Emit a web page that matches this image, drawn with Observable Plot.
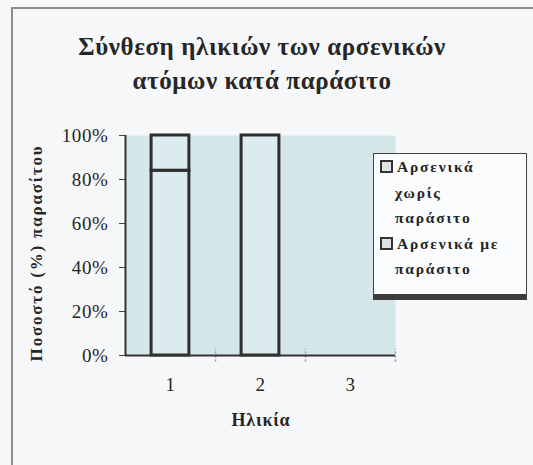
<!DOCTYPE html>
<html>
<head>
<meta charset="utf-8">
<script src="https://cdn.jsdelivr.net/npm/d3@7"></script>
<script src="https://cdn.jsdelivr.net/npm/@observablehq/plot@0.6"></script>
<style>
  html, body { margin: 0; padding: 0; background: #f6f7f9; }
  #wrap { position: relative; width: 533px; height: 465px; overflow: hidden; background: #f6f7f9;
          font-family: "Liberation Serif", "DejaVu Serif", serif; color: #262626; }
  #wrap svg { position: absolute; left: 0; top: 0; }
  .frameL { position: absolute; left: 11px; top: 7px; width: 2px; height: 470px; background: #8a8c8f; }
  .frameT { position: absolute; left: 11px; top: 7px; width: 530px; height: 2px; background: #8a8c8f; }
  .title { position: absolute; left: 0; width: 524px; top: 30px; text-align: center; font-weight: bold;
           font-size: 25px; line-height: 34px; letter-spacing: 0.6px; }
  .ylab { position: absolute; left: 37px; top: 253px; transform: translate(-50%, -50%) rotate(-90deg);
          white-space: nowrap; font-weight: bold; font-size: 17px; letter-spacing: 1.8px; }
  .xlab { position: absolute; left: 261px; top: 420px; transform: translate(-50%, -50%);
          font-weight: bold; font-size: 18px; letter-spacing: 0.8px; }
  .legend { position: absolute; left: 373px; top: 153px; width: 152px; height: 140px; background: #fbfcfd;
            border: 1.5px solid #444; border-bottom: 6px solid #3c3c3c; box-sizing: content-box; }
  .item { position: absolute; left: 6px; font-weight: bold; font-size: 15.5px; letter-spacing: 1.8px;
          line-height: 25.5px; white-space: nowrap; }
  .sw { display: inline-block; width: 9px; height: 9px; border: 2px solid #333; background: #dfe3e4;
        vertical-align: -1px; margin-right: 4px; }
  .ind { padding-left: 15px; }
</style>
</head>
<body>
<div id="wrap">
  <div class="frameL"></div>
  <div class="frameT"></div>
  <div class="title">Σύνθεση ηλικιών των αρσενικών<br>ατόμων κατά παράσιτο</div>
  <div class="ylab">Ποσοστό (%) παρασίτου</div>
  <div class="xlab">Ηλικία</div>
</div>
<script>
// Data
const ages = [1, 2, 3];
const withoutParasite = [16, 0, 0];   // "Αρσενικά χωρίς παράσιτο" (top segment)
const withParasite = [84, 100, 0];    // "Αρσενικά με παράσιτο" (bottom segment)
const seriesNames = ["Αρσενικά χωρίς παράσιτο", "Αρσενικά με παράσιτο"];
const yTicks = [0, 20, 40, 60, 80, 100];
const catBoundaries = [1.5, 2.5, 3.5];

const rows = [];
ages.forEach((a, i) => {
  if (withParasite[i] > 0) rows.push({age: a, series: seriesNames[1], y1: 0, y2: withParasite[i]});
  if (withoutParasite[i] > 0) rows.push({age: a, series: seriesNames[0], y1: withParasite[i], y2: withParasite[i] + withoutParasite[i]});
});

const half = 0.21;
const plot = Plot.plot({
  width: 533,
  height: 465,
  marginLeft: 125,
  marginRight: 138,
  marginTop: 135,
  marginBottom: 110,
  style: {background: "transparent", fontFamily: "Liberation Serif, serif", fontSize: "19px", color: "#262626", letterSpacing: "0.6px"},
  x: {domain: [0.5, 3.5]},
  y: {domain: [0, 100]},
  marks: [
    Plot.frame({fill: "#d5e7e9", stroke: null}),
    Plot.rectY(rows, {x1: d => d.age - half, x2: d => d.age + half, y1: "y1", y2: "y2",
      fill: "#dcebed", stroke: "#2e2e2e", strokeWidth: 3}),
    Plot.axisY({ticks: yTicks, tickFormat: d => d + "%", tickSize: 6, tickPadding: 11, label: null, stroke: "#444"}),
    Plot.axisX({ticks: ages, tickFormat: d => String(d), tickSize: 0, tickPadding: 22, label: null}),
    Plot.ruleX(catBoundaries, {y1: -3, y2: 3, stroke: "#999", strokeWidth: 1.5, strokeDasharray: "2,2"}),
    Plot.ruleY([0], {stroke: "#333", strokeWidth: 2}),
    Plot.ruleX([0.5], {stroke: "#333", strokeWidth: 2})
  ]
});
document.getElementById("wrap").insertBefore(plot, document.querySelector(".title"));

const legend = document.createElement("div");
legend.className = "legend";
legend.innerHTML =
  '<div class="item" style="top:0px"><span class="sw"></span>Αρσενικά</div>' +
  '<div class="item ind" style="top:25.5px">χωρίς</div>' +
  '<div class="item ind" style="top:51px">παράσιτο</div>' +
  '<div class="item" style="top:76.5px"><span class="sw"></span>Αρσενικά με</div>' +
  '<div class="item ind" style="top:102px">παράσιτο</div>';
document.getElementById("wrap").appendChild(legend);
</script>
</body>
</html>
